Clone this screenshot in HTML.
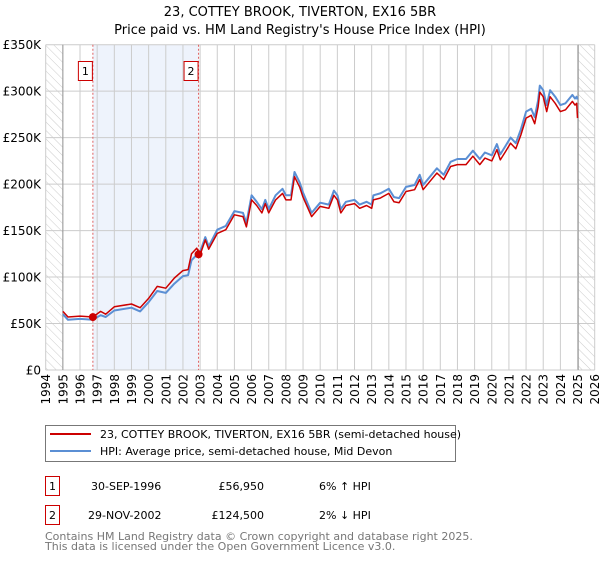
<!DOCTYPE html>
<html><head><meta charset="utf-8"><style>
body{margin:0;background:#fff;font-family:"DejaVu Sans","Liberation Sans",sans-serif;}
svg text{font-family:"DejaVu Sans","Liberation Sans",sans-serif;}
</style></head><body>
<svg id="chart" width="600" height="560" xmlns="http://www.w3.org/2000/svg">
<defs><pattern id="hatch" width="6" height="6" patternUnits="userSpaceOnUse" patternTransform="rotate(-45)"><line x1="0" y1="0" x2="0" y2="6" stroke="#ccc" stroke-width="1"/></pattern></defs>
<text x="300" y="16" text-anchor="middle" font-size="13">23, COTTEY BROOK, TIVERTON, EX16 5BR</text>
<text x="300" y="34" text-anchor="middle" font-size="13">Price paid vs. HM Land Registry's House Price Index (HPI)</text>
<g id="grid"></g>
<g id="marks"></g>
<g>
<rect x="45.5" y="425.5" width="410" height="36" fill="#fff" stroke="#777"/>
<line x1="50" y1="434" x2="91" y2="434" stroke="#cc0000" stroke-width="2"/>
<text x="100" y="438" font-size="11">23, COTTEY BROOK, TIVERTON, EX16 5BR (semi-detached house)</text>
<line x1="50" y1="451" x2="91" y2="451" stroke="#5b8fd4" stroke-width="2"/>
<text x="100" y="455" font-size="11">HPI: Average price, semi-detached house, Mid Devon</text>
</g>
<g font-size="11">
<rect x="45.5" y="476.5" width="14" height="19" fill="#fff" stroke="#cc0000"/>
<text x="52.5" y="490" text-anchor="middle">1</text>
<text x="91" y="490">30-SEP-1996</text>
<text x="264" y="490" text-anchor="end">£56,950</text>
<text x="319" y="490">6% ↑ HPI</text>
<rect x="45.5" y="505.5" width="14" height="19" fill="#fff" stroke="#cc0000"/>
<text x="52.5" y="519" text-anchor="middle">2</text>
<text x="88" y="519">29-NOV-2002</text>
<text x="264" y="519" text-anchor="end">£124,500</text>
<text x="319" y="519">2% ↓ HPI</text>
</g>
<text x="45" y="540" font-size="11" fill="#777">Contains HM Land Registry data © Crown copyright and database right 2025.</text>
<text x="45" y="550" font-size="11" fill="#777">This data is licensed under the Open Government Licence v3.0.</text>
</svg>
<script>
const years=[1995,1995.3,1996,1996.75,1997.2,1997.5,1998,1999,1999.5,2000,2000.5,2001,2001.5,2002,2002.3,2002.5,2002.8,2003,2003.3,2003.5,2004,2004.5,2005,2005.5,2005.7,2006,2006.3,2006.6,2006.8,2007,2007.4,2007.8,2008,2008.3,2008.5,2008.8,2009,2009.5,2010,2010.5,2010.8,2011,2011.2,2011.5,2012,2012.3,2012.7,2013,2013.1,2013.5,2014,2014.3,2014.6,2015,2015.5,2015.8,2016,2016.4,2016.8,2017.2,2017.6,2018,2018.5,2018.9,2019.3,2019.6,2020,2020.3,2020.5,2020.8,2021.1,2021.4,2021.7,2022,2022.3,2022.5,2022.7,2022.8,2023,2023.2,2023.4,2023.7,2024,2024.3,2024.7,2024.85,2024.95,2025];
const priceSeries=[63,57,58,57,63,60,68,71,67,77,90,88,99,107,108,125,131,124,140,130,147,151,167,165,154,183,177,169,179,169,183,190,183,183,208,197,186,165,176,174,188,183,169,177,179,174,177,174,183,185,190,181,180,192,194,205,194,203,212,205,219,221,221,230,221,228,225,237,226,235,244,238,253,271,274,265,283,299,294,278,294,287,278,280,289,285,287,271];
const hpiSeries=[60,54,55,54,59,57,64,67,63,73,85,83,93,101,102,118,124,127,143,133,151,155,171,169,158,188,181,173,183,173,188,195,188,188,213,202,191,169,180,178,193,188,173,181,183,178,181,178,188,190,195,186,185,197,199,210,199,208,217,210,224,227,227,236,227,234,231,243,232,241,250,244,259,278,281,272,290,306,301,285,301,294,285,287,296,292,294,291];
const sales=[{label:'1',year:1996.75,value:56.95},{label:'2',year:2002.91,value:124.5}];
const yTicks=[0,50,100,150,200,250,300,350];
const yTickLabels=['£0','£50K','£100K','£150K','£200K','£250K','£300K','£350K'];
const xTicks=[1994,1995,1996,1997,1998,1999,2000,2001,2002,2003,2004,2005,2006,2007,2008,2009,2010,2011,2012,2013,2014,2015,2016,2017,2018,2019,2020,2021,2022,2023,2024,2025,2026];

const X0=45.7,X1=594.7,Y0=370,Y1=44.7;
const xs=y=>X0+(y-1994)/32*(X1-X0);
const ys=v=>Y0-v/350*(Y0-Y1);
const NS='http://www.w3.org/2000/svg';
function mk(tag,attrs,parent){const e=document.createElementNS(NS,tag);for(const k in attrs)e.setAttribute(k,attrs[k]);parent.appendChild(e);return e;}
const grid=document.getElementById('grid'),marks=document.getElementById('marks');
// band & hatches
let b=mk('rect',{x:xs(sales[0].year),y:Y1,width:xs(sales[1].year)-xs(sales[0].year),height:Y0-Y1,fill:'#eef3fc'},grid);


let h1=mk('rect',{x:X0,y:Y1,width:xs(1995)-X0,height:Y0-Y1,fill:'url(#hatch)'},grid);


let h2=mk('rect',{x:xs(2025.04),y:Y1,width:X1-xs(2025.04),height:Y0-Y1,fill:'url(#hatch)'},grid);


xTicks.forEach(t=>{
  const l=mk('line',{x1:xs(t),x2:xs(t),y1:Y1,y2:Y0,stroke:'#ccc','stroke-width':1},grid);
  
  
  const tx=mk('text',{x:0,y:0,transform:`translate(${xs(t)+4.5},374) rotate(-90)`,'text-anchor':'end','font-size':'12'},grid);
  tx.textContent=t;
  
  
});
yTicks.forEach((t,i)=>{
  const l=mk('line',{x1:X0,x2:X1,y1:ys(t),y2:ys(t),stroke:'#ccc','stroke-width':1},grid);
  
  
  const tx=mk('text',{x:41,y:ys(t)+4.5,'text-anchor':'end','font-size':'12'},grid);
  tx.textContent=yTickLabels[i];
  
  
});
[1995,2025.04].forEach(t=>{const l=mk('line',{x1:xs(t),x2:xs(t),y1:Y1,y2:Y0,stroke:'#999','stroke-width':1},grid);

});
sales.forEach(s=>{
  const l=mk('line',{x1:xs(s.year),x2:xs(s.year),y1:Y1,y2:Y0,stroke:'#e06060','stroke-width':1,'stroke-dasharray':'2,2'},grid);
  
  
  const r=mk('rect',{x:xs(s.year)-14.5,y:61.5,width:14,height:19,fill:'#fff',stroke:'#cc0000'},grid);
  
  
  const t=mk('text',{x:xs(s.year)-7.5,y:75,'text-anchor':'middle','font-size':'11'},grid);
  t.textContent=s.label;
  
  
});
const pts=a=>a.map((v,i)=>xs(years[i]).toFixed(1)+','+ys(v).toFixed(1)).join(' ');
const hl=mk('polyline',{points:pts(hpiSeries),fill:'none',stroke:'#5b8fd4','stroke-width':2,'stroke-linejoin':'round'},marks);


const pl=mk('polyline',{points:pts(priceSeries),fill:'none',stroke:'#cc0000','stroke-width':1.5,'stroke-linejoin':'round'},marks);


sales.forEach(s=>{const c=mk('circle',{cx:xs(s.year),cy:ys(s.value),r:4,fill:'#cc0000'},marks);

});
</script>
</body></html>
